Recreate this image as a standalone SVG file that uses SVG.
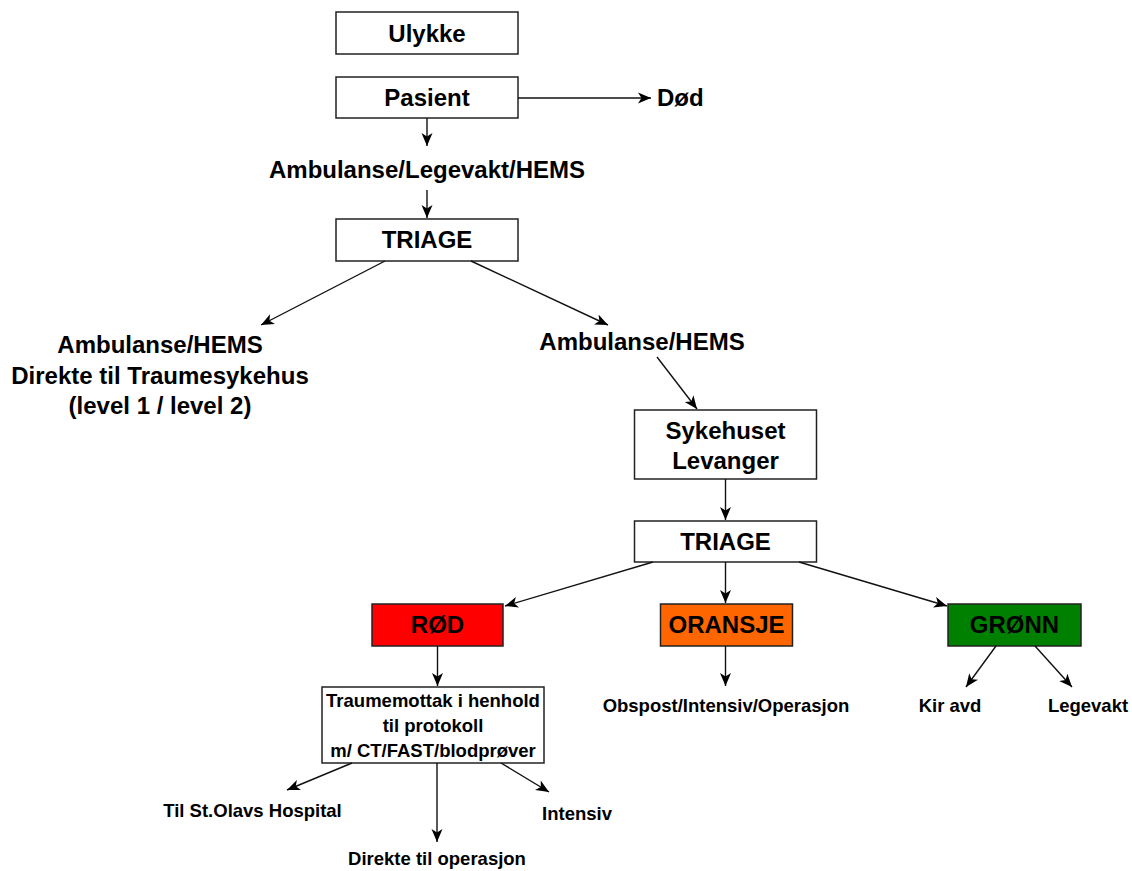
<svg xmlns="http://www.w3.org/2000/svg" width="1132" height="871" viewBox="0 0 1132 871">
<style>
.box{fill:#ffffff;stroke:#222;stroke-width:1.5}
.t{font-family:"Liberation Sans",Arial,sans-serif;font-weight:bold;font-size:24px;fill:#000;text-anchor:middle}
.s{font-family:"Liberation Sans",Arial,sans-serif;font-weight:bold;font-size:18.5px;fill:#000;text-anchor:middle}
.c line{stroke:#111;stroke-width:1.4;marker-end:url(#ah)}
</style>
<defs>
<marker id="ah" markerUnits="userSpaceOnUse" markerWidth="14" markerHeight="12" refX="13" refY="6" orient="auto">
<path d="M0,0.5 L13,6 L0,11.5 L3.5,6 z" fill="#000"/>
</marker>
</defs>
<rect width="1132" height="871" fill="#fff"/>
<g id="ulykke"><rect class="box" x="336" y="12" width="182" height="42"/><text class="t" x="427" y="42">Ulykke</text></g>
<g id="pasient"><rect class="box" x="336" y="77" width="182" height="41"/><text class="t" x="427" y="106">Pasient</text></g>
<g id="dod"><text class="t" x="657" y="106" style="text-anchor:start">Død</text></g>
<g id="transport1"><text class="t" x="427" y="178">Ambulanse/Legevakt/HEMS</text></g>
<g id="triage1"><rect class="box" x="336" y="219" width="182" height="42"/><text class="t" x="427" y="248">TRIAGE</text></g>
<g id="direkte"><text class="t" x="160" y="353">Ambulanse/HEMS</text><text class="t" x="160" y="384">Direkte til Traumesykehus</text><text class="t" x="160" y="414">(level 1 / level 2)</text></g>
<g id="transport2"><text class="t" x="642" y="350">Ambulanse/HEMS</text></g>
<g id="levanger"><rect class="box" x="634.5" y="410" width="182" height="69"/><text class="t" x="725.5" y="439">Sykehuset</text><text class="t" x="725.5" y="469">Levanger</text></g>
<g id="triage2"><rect class="box" x="634.5" y="521" width="182" height="41"/><text class="t" x="725.5" y="550">TRIAGE</text></g>
<g id="rod"><rect class="box" style="fill:#ff0000" x="372" y="604" width="131" height="42"/><text class="t" x="437.5" y="633">RØD</text></g>
<g id="oransje"><rect class="box" style="fill:#ff6600" x="660.5" y="604" width="132" height="42"/><text class="t" x="726.5" y="633">ORANSJE</text></g>
<g id="gronn"><rect class="box" style="fill:#008000" x="948" y="604" width="133" height="42"/><text class="t" x="1014.5" y="633">GRØNN</text></g>
<g id="traumemottak"><rect class="box" x="322" y="687" width="222" height="76"/><text class="s" x="433" y="707">Traumemottak i henhold</text><text class="s" x="433" y="732">til protokoll</text><text class="s" x="433" y="757">m/ CT/FAST/blodprøver</text></g>
<g id="obspost"><text class="s" x="726" y="712">Obspost/Intensiv/Operasjon</text></g>
<g id="kiravd"><text class="s" x="950" y="712">Kir avd</text></g>
<g id="legevakt"><text class="s" x="1088" y="712">Legevakt</text></g>
<g id="stolavs"><text class="s" x="252.5" y="817">Til St.Olavs Hospital</text></g>
<g id="operasjon"><text class="s" x="437" y="865">Direkte til operasjon</text></g>
<g id="intensiv"><text class="s" x="577" y="820">Intensiv</text></g>
<g id="connectors" class="c">
<line x1="518" y1="98" x2="651" y2="98"/>
<line x1="427" y1="118" x2="427" y2="146"/>
<line x1="427" y1="190" x2="427" y2="218"/>
<line x1="385" y1="261" x2="261" y2="325"/>
<line x1="471" y1="261" x2="608" y2="325"/>
<line x1="657" y1="357" x2="697" y2="409"/>
<line x1="725.5" y1="479" x2="725.5" y2="520"/>
<line x1="653" y1="562" x2="505" y2="606"/>
<line x1="725.5" y1="562" x2="725.5" y2="603"/>
<line x1="799" y1="562" x2="947" y2="606"/>
<line x1="437.5" y1="646" x2="437.5" y2="686"/>
<line x1="725.5" y1="646" x2="725.5" y2="686"/>
<line x1="996" y1="646" x2="966" y2="687"/>
<line x1="1035" y1="646" x2="1072" y2="687"/>
<line x1="352" y1="763" x2="287" y2="790"/>
<line x1="437" y1="763" x2="437" y2="842"/>
<line x1="501" y1="763" x2="549" y2="792"/>
</g>
</svg>
